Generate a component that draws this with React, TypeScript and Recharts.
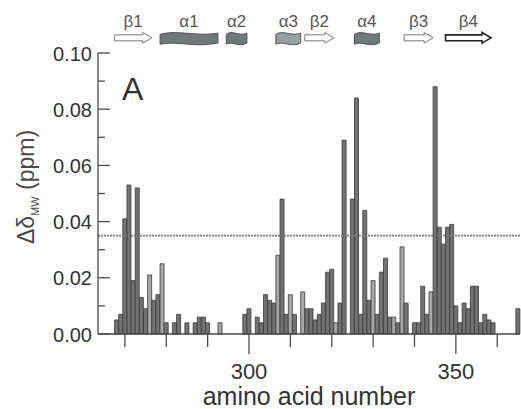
import {
  Bar,
  BarChart,
  Cell,
  Label,
  ReferenceArea,
  ReferenceLine,
  XAxis,
  YAxis,
} from 'recharts'

// residue numbering of the first category; one entry per residue after that
const firstResidue = 264

// Δδ_MW (ppm) per residue, null = no value
const shifts: (number | null)[] = [
  null, null, null, null, 0.005, 0.007, 0.041, 0.053, 0.019, 0.052, // 264-273
  0.013, 0.009, 0.021, 0.012, 0.014, 0.025, 0.004, null, 0.004, 0.007, // 274-283
  null, 0.004, null, 0.004, 0.006, 0.006, 0.004, null, null, 0.004, // 284-293
  null, null, null, null, null, 0.007, 0.009, null, 0.006, 0.004, // 294-303
  0.014, 0.012, 0.011, 0.028, 0.048, 0.007, 0.014, 0.007, null, 0.015, // 304-313
  0.009, 0.009, 0.005, 0.007, 0.011, 0.022, 0.023, 0.004, 0.011, 0.069, // 314-323
  null, 0.048, 0.084, 0.007, 0.044, 0.012, 0.019, 0.007, 0.022, 0.027, // 324-333
  0.006, 0.006, 0.004, 0.031, 0.011, null, 0.004, 0.004, 0.017, 0.007, // 334-343
  0.015, 0.088, 0.038, 0.032, 0.038, 0.039, 0.01, 0.004, 0.011, 0.009, // 344-353
  0.017, 0.017, 0.004, 0.007, 0.005, 0.004, null, null, null, null, // 354-363
  null, 0.009, // 364-365
]

// residues drawn with open (light) bars
const lightResidues = [276, 279, 293, 307, 310, 313, 321, 330, 335, 337, 344]

const yTicks = [0, 0.01, 0.02, 0.03, 0.04, 0.05, 0.06, 0.07, 0.08, 0.09, 0.1]
const xLabelTicks = [300, 350]
const cutoff = 0.035

type SSElement = { label: string; kind: 'strand' | 'helix'; start: number; end: number }

const structure: SSElement[] = [
  { label: 'β1', kind: 'strand', start: 268, end: 276 },
  { label: 'α1', kind: 'helix', start: 279, end: 292 },
  { label: 'α2', kind: 'helix', start: 295, end: 299 },
  { label: 'α3', kind: 'helix', start: 307, end: 312 },
  { label: 'β2', kind: 'strand', start: 314, end: 320 },
  { label: 'α4', kind: 'helix', start: 326, end: 331 },
  { label: 'β3', kind: 'strand', start: 338, end: 344 },
  { label: 'β4', kind: 'strand', start: 348, end: 358 },
]

const rows = shifts.map((v, i) => ({ res: firstResidue + i, v }))

const axisColor = '#4a4a4a'
const textColor = '#333'
const font = '"Liberation Sans", Arial, sans-serif'

function BottomTick({ x, y, payload }: any) {
  const v = Number(payload.value)
  if (v % 10 !== 0) return <g />
  const major = xLabelTicks.includes(v)
  return (
    <g>
      <line x1={x} x2={x} y1={y} y2={y + (major ? 20 : 13)} stroke={axisColor} strokeWidth={1.3} />
      {major ? (
        <text x={x} y={y + 45} textAnchor="middle" fontSize={22} fill={textColor} fontFamily={font}>
          {v}
        </text>
      ) : null}
    </g>
  )
}

function TopTick({ x, y, payload }: any) {
  const v = Number(payload.value)
  if (v % 10 !== 0) return <g />
  return <line x1={x} x2={x} y1={y} y2={y + 10} stroke={axisColor} strokeWidth={1.3} />
}

function isMajorY(v: number) {
  return Math.round(v * 100) % 2 === 0
}

function LeftTick({ x, y, payload }: any) {
  const v = Number(payload.value)
  const major = isMajorY(v)
  return (
    <g>
      <line x1={x} x2={x + (major ? 12 : 7)} y1={y} y2={y} stroke={axisColor} strokeWidth={1.3} />
      {major ? (
        <text x={x - 6} y={y + 7.5} textAnchor="end" fontSize={20} fill={textColor} fontFamily={font}>
          {v.toFixed(2)}
        </text>
      ) : null}
    </g>
  )
}

function RightTick({ x, y, payload }: any) {
  const major = isMajorY(Number(payload.value))
  return <line x1={x} x2={x - (major ? 11 : 7)} y1={y} y2={y} stroke={axisColor} strokeWidth={1.3} />
}

function ArrowShape({ x, y, width, height, stroke, strokeWidth }: any) {
  const head = Math.min(9, width * 0.4)
  const top = y + height * 0.22
  const bot = y + height * 0.78
  const d = `M${x},${top} L${x + width - head},${top} L${x + width - head},${y} L${x + width},${y + height / 2} L${x + width - head},${y + height} L${x + width - head},${bot} L${x},${bot} Z`
  return <path d={d} fill="#fff" stroke={stroke} strokeWidth={strokeWidth} />
}

function HelixShape({ x, y, width, height, fill, stroke }: any) {
  const a = height * 0.18
  const d = `M${x},${y + a} C${x + width * 0.3},${y - a} ${x + width * 0.6},${y + 2 * a} ${x + width},${y + a * 0.5} L${x + width},${y + height - a} C${x + width * 0.6},${y + height + a} ${x + width * 0.3},${y + height - 2 * a} ${x},${y + height - a * 0.5} Z`
  return <path d={d} fill={fill} stroke={stroke} strokeWidth={1} />
}

export default function App() {
  return (
    <div style={{ position: 'absolute', left: 0, top: 0, width: 521, height: 409, background: '#fff' }}>
      <BarChart
        width={521}
        height={409}
        data={rows}
        margin={{ top: 53, right: 1, bottom: 0, left: 0 }}
        barCategoryGap={0}
        style={{ fontFamily: font }}
      >
        <XAxis
          dataKey="res"
          type="category"
          interval={0}
          height={75}
          tickSize={0}
          tickMargin={0}
          tickLine={false}
          tick={<BottomTick />}
          axisLine={{ stroke: axisColor, strokeWidth: 1.3 }}
        >
          <Label value="amino acid number" position="insideBottom" offset={4} fontSize={25} fill={textColor} />
        </XAxis>
        <XAxis
          xAxisId="top"
          orientation="top"
          dataKey="res"
          type="category"
          interval={0}
          height={0}
          tickSize={0}
          tickMargin={0}
          tickLine={false}
          tick={<TopTick />}
          axisLine={{ stroke: axisColor, strokeWidth: 1.3 }}
        />
        <YAxis
          width={98}
          domain={[0, 0.1]}
          ticks={yTicks}
          interval={0}
          tickSize={0}
          tickMargin={0}
          tickLine={false}
          tick={<LeftTick />}
          axisLine={{ stroke: axisColor, strokeWidth: 1.3 }}
        />
        <YAxis
          yAxisId="right"
          orientation="right"
          width={0}
          domain={[0, 0.1]}
          ticks={yTicks}
          interval={0}
          tickSize={0}
          tickMargin={0}
          tickLine={false}
          tick={<RightTick />}
          axisLine={{ stroke: axisColor, strokeWidth: 1.3 }}
        />
        <ReferenceLine y={cutoff} stroke="#777" strokeWidth={1.6} strokeDasharray="2 1" />
        <Bar dataKey="v" isAnimationActive={false} stroke="#3a3a3a" strokeWidth={0.8}>
          {rows.map((r) => (
            <Cell key={r.res} fill={lightResidues.includes(r.res) ? '#a8a8a8' : '#727272'} />
          ))}
        </Bar>
        {structure.map((s) =>
          s.kind === 'helix' ? (
            <ReferenceArea
              key={s.label}
              x1={s.start}
              x2={s.end}
              y1={0.1027}
              y2={0.1075}
              ifOverflow="visible"
              fill={s.label === 'α3' ? '#97a0a0' : '#6e7a7a'}
              stroke="#555"
              shape={<HelixShape />}
            >
              <Label value={s.label} position="top" offset={5} fontSize={17} fill="#555" />
            </ReferenceArea>
          ) : (
            <ReferenceArea
              key={s.label}
              x1={s.start}
              x2={s.end}
              y1={0.1035}
              y2={0.1073}
              ifOverflow="visible"
              stroke={s.label === 'β4' ? '#222' : '#777'}
              strokeWidth={s.label === 'β4' ? 1.6 : 1}
              shape={<ArrowShape />}
            >
              <Label value={s.label} position="top" offset={5} fontSize={17} fill="#555" />
            </ReferenceArea>
          ),
        )}
        <text x={122} y={100} fontSize={32} fill={textColor} fontFamily={font}>
          A
        </text>
        <text
          transform="translate(34, 187) rotate(-90)"
          textAnchor="middle"
          fontSize={23}
          fill="#4a4a4a"
          fontFamily={font}
        >
          Δδ
          <tspan fontSize={11} dy={5}>
            MW
          </tspan>
          <tspan dy={-5}> (ppm)</tspan>
        </text>
      </BarChart>
    </div>
  )
}
